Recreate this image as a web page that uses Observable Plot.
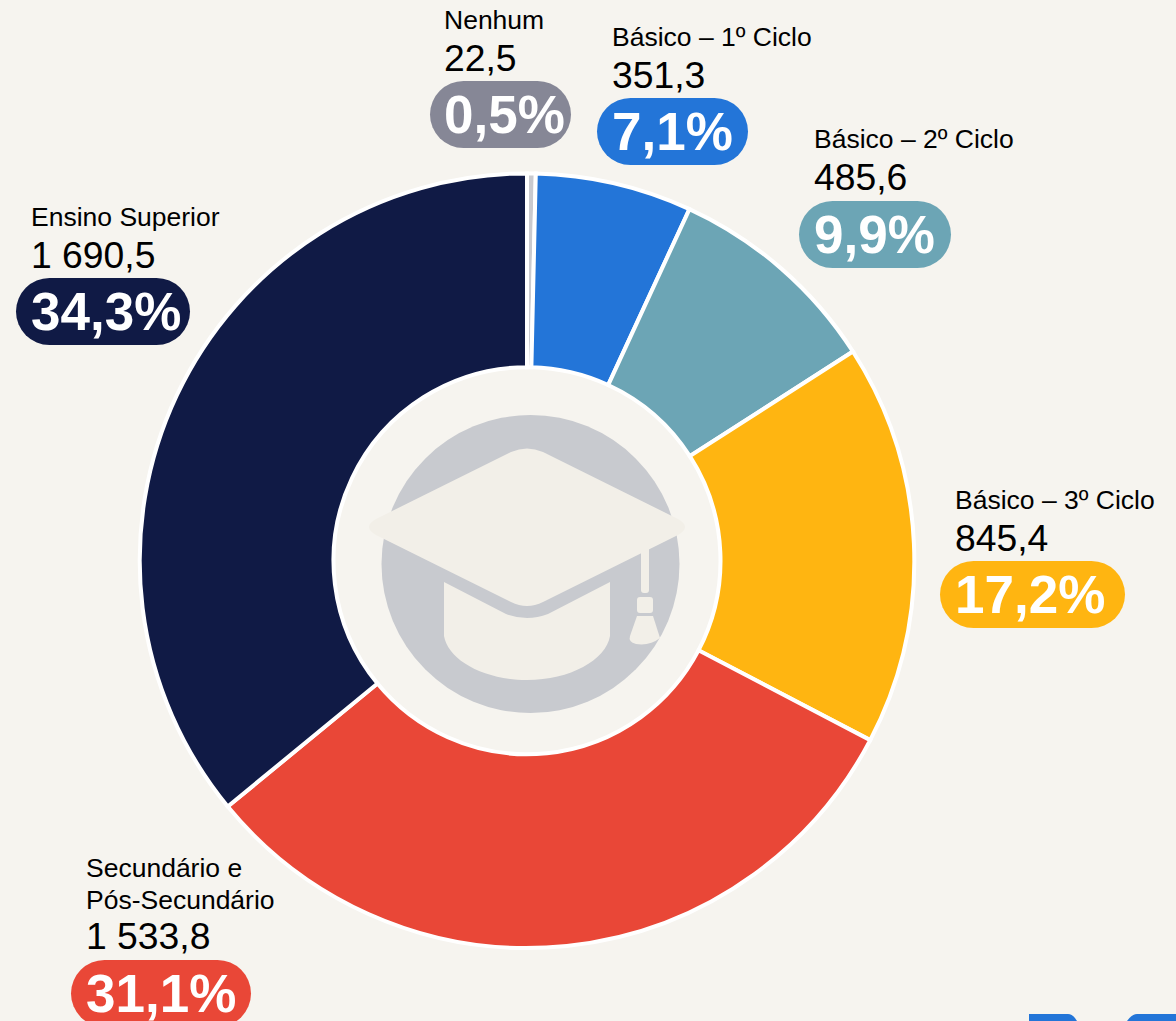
<!DOCTYPE html>
<html lang="pt">
<head>
<meta charset="utf-8">
<script src="https://cdn.jsdelivr.net/npm/d3@7"></script>
<script src="https://cdn.jsdelivr.net/npm/@observablehq/plot@0.6"></script>
<style>
html,body{margin:0;padding:0;background:#f6f4ef;overflow:hidden;width:1176px;height:1021px}
svg{display:block}
</style>
</head>
<body>
<div id="chart"></div>
<script>
const categories = ["Nenhum","Básico – 1º Ciclo","Básico – 2º Ciclo","Básico – 3º Ciclo","Secundário e\nPós-Secundário","Ensino Superior"];
const valueLabels = ["22,5","351,3","485,6","845,4","1 533,8","1 690,5"];
const percentLabels = ["0,5%","7,1%","9,9%","17,2%","31,1%","34,3%"];
// Slice sizes as drawn in the picture, measured as ring degrees (they differ slightly from the printed shares)
const sliceDegrees = [1.3,23.5,32.5,60.3,113,129.4];
const sliceColors = ["#c9cacf","#2375d8","#6ca5b5","#ffb511","#e94737","#101a45"];
const pillColors = ["#868796","#2375d8","#6ca5b5","#ffb511","#e94737","#101a45"];

// label layout in pixels: text x, first label baseline, pill left/right/top
const labelX = [443.5,611.5,813.5,954.5,85.5,30.5];
const labelY = [28,45,147,508,876,225];
const valueY = [70,87,189,550,948,267];
const pillLeft = [430,597,799,940,71,16];
const pillRight = [571,748,951,1125,251,190];
const pillTop = [81,98,201,561,960,278];
const pillHeight = 67;

const W = 1176, H = 1021, cx = 527, cy = 560.7, rOuter = 387.3, rInner = 193.5;
const FONT = "'Liberation Sans', Arial, sans-serif";

let acc = 0;
const slices = categories.map((c,i)=>{const s={category:c,start:acc,end:acc+sliceDegrees[i]};acc+=sliceDegrees[i];return s;});
const total = acc;
const rows = categories.map((c,i)=>i);
const labelLines = categories.flatMap((c,i)=>c.split("\n").map((t,k)=>({t,x:labelX[i],y:labelY[i]+k*32})));
const px = f => ({value:f, scale:null});

function arcs(index, scales, v){
  const g = d3.create("svg:g").attr("transform",`translate(${cx},${cy})`);
  const arc = d3.arc().innerRadius(rInner).outerRadius(rOuter);
  for (const i of index) {
    g.append("path")
      .attr("d",arc({startAngle:v.x1[i],endAngle:v.x2[i]}))
      .attr("fill",v.fill[i])
      .attr("stroke","#ffffff").attr("stroke-width",4).attr("stroke-linejoin","miter");
  }
  return g.node();
}

function emblem(){
  const g = d3.create("svg:g");
  const cap = "#f2efe8";
  g.append("circle").attr("cx",530.5).attr("cy",564).attr("r",149).attr("fill","#c8cacf");
  g.append("path").attr("fill",cap).attr("d","M511,452 Q527,445 543,452 L678,519 Q692,527 678,535 L543,602 Q527,610 511,602 L376,535 Q362,527 376,519 Z");
  g.append("path").attr("fill",cap).attr("d","M444,582 L506,614 Q527,622 548,614 L610,582 L610,636 C606,660 570,680 527,680 C484,680 448,660 444,636 Z");
  g.append("path").attr("fill",cap).attr("d","M641,552 L649,548 L649,590 Q649,593 646,593 L644,593 Q641,593 641,590 Z");
  g.append("rect").attr("x",637).attr("y",597).attr("width",16).attr("height",16).attr("rx",3).attr("fill",cap);
  g.append("path").attr("fill",cap).attr("d","M637,616 L653,616 L660,638 Q650,646 636,644 Q628,642 630,636 Z");
  // logo fragment at the bottom edge
  g.append("path").attr("fill","#2375d8").attr("d","M1029,1021 L1029,1014 L1068,1014 Q1073,1014 1077,1021 Z");
  g.append("path").attr("fill","#2375d8").attr("d","M1176,1021 L1176,1014 L1137,1014 Q1132,1014 1127,1021 Z");
  return g.node();
}

const chart = Plot.plot({
  width:W, height:H, margin:0,
  style:{background:"#f6f4ef",fontFamily:FONT},
  x:{domain:[0,total],range:[0,2*Math.PI],axis:null},
  y:{domain:[0,H],range:[0,H],axis:null},
  color:{domain:categories,range:sliceColors},
  marks:[
    Plot.barX(slices,{x1:"start",x2:"end",fill:"category",render:arcs}),
    emblem,
    Plot.text(labelLines,{x:px(d=>d.x),y:"y",text:"t",textAnchor:"start",lineAnchor:"bottom",fontSize:26.5,fill:"#000",fontFamily:FONT}),
    Plot.text(rows,{x:px(i=>labelX[i]),y:i=>valueY[i],text:i=>valueLabels[i],textAnchor:"start",lineAnchor:"bottom",fontSize:37.3,fill:"#000",fontFamily:FONT}),
    Plot.rect(rows,{x1:px(i=>pillLeft[i]),x2:px(i=>pillRight[i]),y1:i=>pillTop[i],y2:i=>pillTop[i]+pillHeight,fill:i=>pillColors[i],rx:33.5}),
    Plot.text(rows,{x:px(i=>labelX[i]),y:i=>pillTop[i]+51,text:i=>percentLabels[i],textAnchor:"start",lineAnchor:"bottom",fontSize:53,fontWeight:"bold",fill:"#fff",fontFamily:FONT})
  ]
});
document.getElementById("chart").append(chart);
</script>
</body>
</html>
